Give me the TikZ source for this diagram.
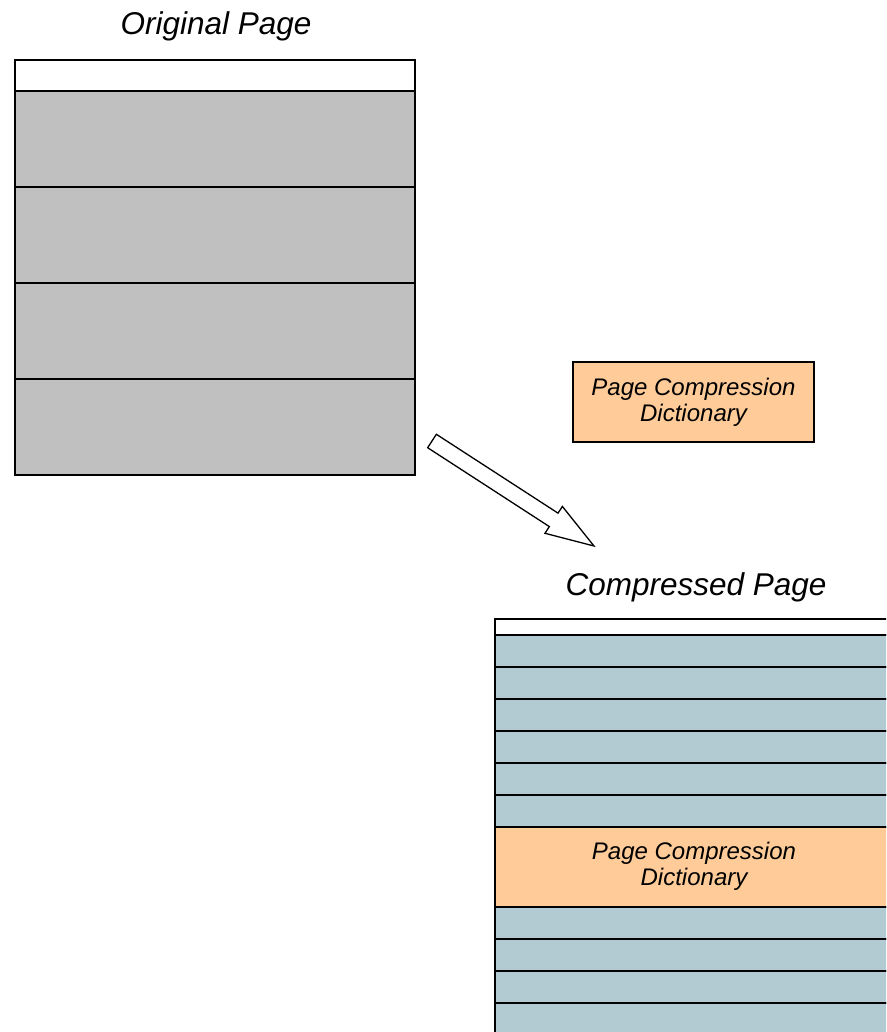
\documentclass[tikz,border=0pt]{standalone}
\usepackage{fontspec}
\setmainfont{Liberation Sans}
\usepackage{xcolor}
\usetikzlibrary{positioning,calc}
\definecolor{pagegrey}{HTML}{C0C0C0}
\definecolor{rowblue}{HTML}{B2CBD2}
\definecolor{dictpeach}{HTML}{FFCC99}
\tikzset{
  pagerow/.style={draw, line width=1.8pt, inner sep=0pt, anchor=north west},
  dictlabel/.style={font=\itshape\fontsize{24}{26}\selectfont, align=center},
  pagetitle/.style={font=\itshape\fontsize{31.5}{34}\selectfont, anchor=base},
}
\begin{document}
\begin{tikzpicture}[x=1pt,y=-1pt]
				\clip (0,0) rectangle (886,1032);
				% original page
				\node[pagetitle] (origtitle) at (216,35) {Original Page};
				\node[pagerow, fill=white, minimum width=400, minimum height=31] (orighead) at (14,59) {};
				\foreach \i in {1,...,4}
				\node[pagerow, fill=pagegrey, minimum width=400, minimum height=96] (orig\i) at (14,{90+96*(\i-1)}) {};
				% dictionary
				\node[draw, line width=1.8pt, fill=dictpeach, minimum width=241, minimum height=80, dictlabel] (dict) at (693.5,402) {Page Compression\\Dictionary};
				% big arrow
				\coordinate (arrtail) at (432,441);
				\coordinate (arrtip) at (594,546);
				\coordinate (arrbase) at ($(arrtail)!145pt!(arrtip)$);
				\draw[line width=1.3pt, fill=white, line join=miter]
				($(arrtail)!8pt!90:(arrtip)$) -- ($(arrbase)!8pt!90:(arrtip)$) -- ($(arrbase)!16pt!90:(arrtip)$)
				-- (arrtip) -- ($(arrbase)!16pt!-90:(arrtip)$) -- ($(arrbase)!8pt!-90:(arrtip)$)
				-- ($(arrtail)!8pt!-90:(arrtip)$) -- cycle;
				% compressed page
				\node[pagetitle] (comptitle) at (696,595) {Compressed Page};
				\node[pagerow, fill=white, minimum width=420, minimum height=16] (comphead) at (494,618) {};
				\foreach \i in {1,...,6}
				\node[pagerow, fill=rowblue, minimum width=420, minimum height=32] (comp\i) at (494,{634+32*(\i-1)}) {};
				\node[pagerow, fill=dictpeach, minimum width=420, minimum height=80] (compdict) at (494,826) {};
				\node[dictlabel] (compdictlabel) at (694,866) {Page Compression\\Dictionary};
				\foreach \i in {7,...,10}
				\node[pagerow, fill=rowblue, minimum width=420, minimum height=32] (comp\i) at (494,{906+32*(\i-7)}) {};
\end{tikzpicture}
\end{document}
